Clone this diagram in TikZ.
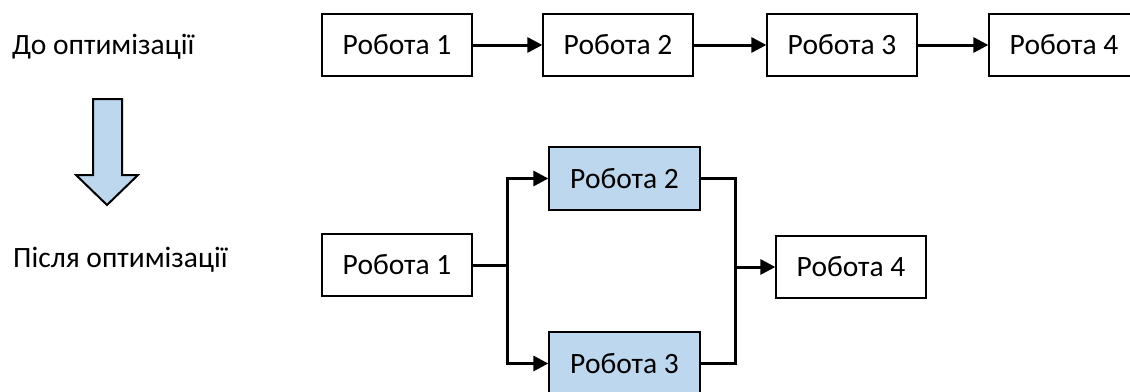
\documentclass[tikz,border=0pt]{standalone}
\usepackage{fontspec}
\setmainfont{Carlito}
\usetikzlibrary{positioning, arrows.meta}
\definecolor{jobblue}{HTML}{BDD7EE}

\tikzset{
    job/.style={draw, line width=1.3pt, minimum width=150pt, minimum height=62pt,
        inner sep=0pt, font=\fontsize{29.5}{35}\selectfont},
    jobopt/.style={job, fill=jobblue, minimum width=151pt, minimum height=63pt},
    arr/.style={-{Triangle[length=15pt,width=15pt]}, line width=3pt},
    wire/.style={line width=3pt},
    caption/.style={anchor=base west, inner sep=0pt, font=\fontsize{29.5}{35}\selectfont}
}

\begin{document}
\begin{tikzpicture}[x=1pt, y=-1pt]
    \useasboundingbox (0,0) rectangle (1130,391);

    % before
    \node[caption] (before) at (12,54) {До оптимізації};
    \foreach \i/\x in {1/397, 2/618, 3/842, 4/1064} {
        \node[job] (t\i) at (\x,45) {Робота \i};
    }
    \foreach \a/\b in {1/2, 2/3, 3/4} {
        \draw[arr] (t\a) -- (t\b);
    }

    % big arrow
    \draw[fill=jobblue, line width=2pt, line join=miter]
        (93,99) -- (122,99) -- (122,175) -- (138,175) -- (107,205)
        -- (76,175) -- (93,175) -- cycle;

    % after
    \node[caption] (after) at (13,267) {Після оптимізації};
    \node[job] (b1) at (397,265) {Робота 1};
    \node[jobopt] (b2) at (624.5,178.5) {Робота 2};
    \node[jobopt] (b3) at (624.5,363.5) {Робота 3};
    \node[job] (b4) at (851,267) {Робота 4};

    \coordinate (jl) at (507,265);
    \coordinate (jr) at (735,267);
    \draw[wire] (b1.east) -- (jl);
    \draw[arr] (jl) |- (b2.west);
    \draw[arr] (jl) |- (b3.west);
    \draw[wire] (b2.east) -| (jr);
    \draw[wire] (b3.east) -| (jr);
    \draw[arr] (jr) -- (b4.west);
\end{tikzpicture}
\end{document}
